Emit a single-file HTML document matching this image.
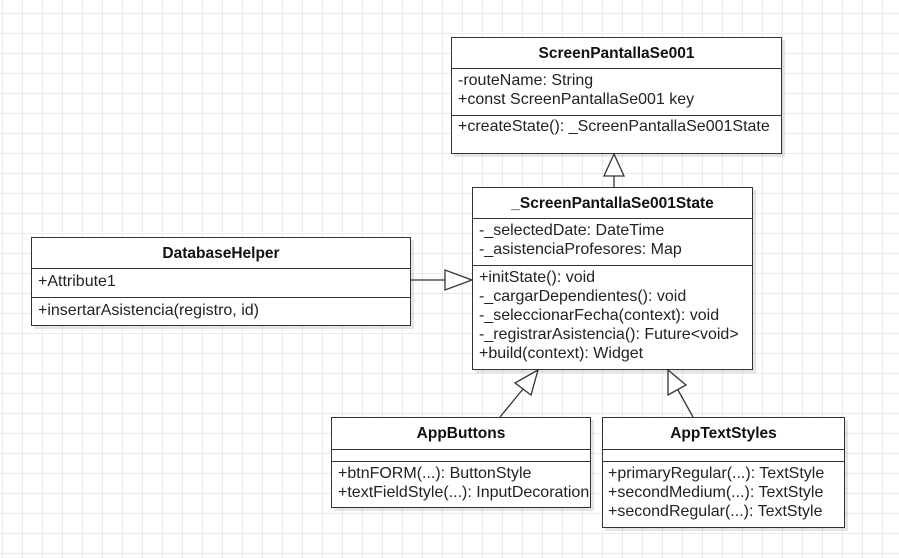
<!DOCTYPE html>
<html><head><style>
body{margin:0;width:899px;height:558px;overflow:hidden;background:#fff;
background-image:linear-gradient(#ebebeb 1px,transparent 1px),linear-gradient(90deg,#ebebeb 1px,transparent 1px);
background-size:20px 20px;background-position:2px 13px;font-family:"Liberation Sans",sans-serif;position:relative}
.b{position:absolute;background:#fff;border:1px solid #333;box-sizing:border-box;box-shadow:3px 3px 0 rgba(0,0,0,0.1);color:#222;font-size:16px}
.h{font-weight:bold;text-align:center;border-bottom:1px solid #333;box-sizing:border-box;color:#111;font-size:15.5px}
.s{border-bottom:1px solid #333;box-sizing:border-box;padding:1px 0 0 6px;line-height:19px;white-space:nowrap}
.s:last-child{border-bottom:none}
svg{position:absolute;left:0;top:0}
</style></head><body>
<div class="b" style="left:451px;top:37px;width:331px;height:117px">
 <div class="h" style="height:31px;line-height:31px">ScreenPantallaSe001</div>
 <div class="s" style="height:47px;padding-top:2px">-routeName: String<br>+const ScreenPantallaSe001 key</div>
 <div class="s">+createState(): _ScreenPantallaSe001State</div>
</div>
<div class="b" style="left:472px;top:187px;width:281px;height:183px">
 <div class="h" style="height:31px;line-height:31px">_ScreenPantallaSe001State</div>
 <div class="s" style="height:47px;padding-top:2px">-_selectedDate: DateTime<br>-_asistenciaProfesores: Map</div>
 <div class="s" style="padding-top:2px">+initState(): void<br>-_cargarDependientes(): void<br>-_seleccionarFecha(context): void<br>-_registrarAsistencia(): Future&lt;void&gt;<br>+build(context): Widget</div>
</div>
<div class="b" style="left:31px;top:237px;width:380px;height:89px">
 <div class="h" style="height:31px;line-height:31px">DatabaseHelper</div>
 <div class="s" style="height:29px;padding-top:3px">+Attribute1</div>
 <div class="s" style="padding-top:3px">+insertarAsistencia(registro, id)</div>
</div>
<div class="b" style="left:331px;top:417px;width:260px;height:91px">
 <div class="h" style="height:32px;line-height:32px">AppButtons</div>
 <div class="s" style="height:12px;padding:0"></div>
 <div class="s" style="padding-top:2px">+btnFORM(...): ButtonStyle<br>+textFieldStyle(...): InputDecoration</div>
</div>
<div class="b" style="left:602px;top:417px;width:243px;height:111px">
 <div class="h" style="height:32px;line-height:32px">AppTextStyles</div>
 <div class="s" style="height:12px;padding:0"></div>
 <div class="s" style="padding-top:2px;padding-left:5px">+primaryRegular(...): TextStyle<br>+secondMedium(...): TextStyle<br>+secondRegular(...): TextStyle</div>
</div>
<svg width="899" height="558">
 <g stroke="#333" stroke-width="1.3" fill="#fff">
  <line x1="614" y1="176" x2="614" y2="187"/>
  <polygon points="614,154 604,176 624,176"/>
  <line x1="411" y1="280" x2="445" y2="280"/>
  <polygon points="472,280 445,270 445,290"/>
  <line x1="500" y1="417" x2="523" y2="389"/>
  <polygon points="538,370 515,383 531,395"/>
  <line x1="693" y1="417" x2="678" y2="390"/>
  <polygon points="668,370 668,395 686,385"/>
 </g>
</svg>
</body></html>
